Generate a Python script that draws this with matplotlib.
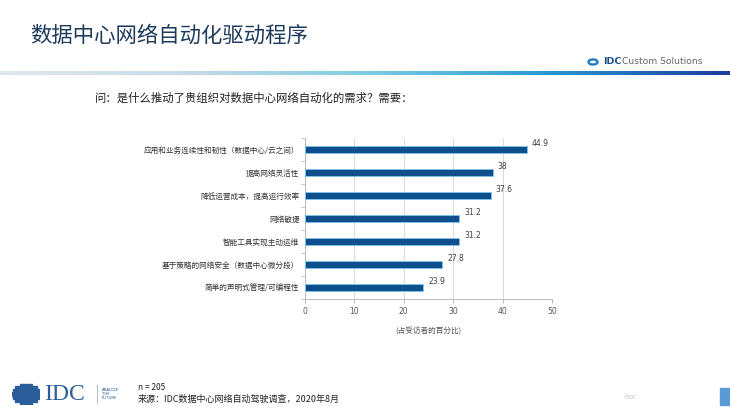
import numpy as np
import matplotlib
matplotlib.use("Agg")
from matplotlib import pyplot as plt
from matplotlib.patches import Rectangle, Circle

plt.rcParams['font.family'] = ['Noto Sans CJK SC', 'DejaVu Sans']

# chart data
drivers = ['应用和业务连续性和韧性（数据中心/云之间）', '提高网络灵活性', '降低运营成本，提高运行效率',
           '网络敏捷', '智能工具实现主动运维', '基于策略的网络安全（数据中心微分段）', '简单的声明式管理/可编程性']
shares = [44.9, 38, 37.6, 31.2, 31.2, 27.8, 23.9]
share_labels = ['44.9', '38', '37.6', '31.2', '31.2', '27.8', '23.9']
x_ticks = [0, 10, 20, 30, 40, 50]

fig = plt.figure(figsize=(7.3, 4.11), dpi=100)

# header
fig.text(30 / 730, 1 - 36 / 411, '数据中心网络自动化驱动程序', fontsize=15.4, color='#1e3b5c',
         va='center', ha='left')
bar_ax = fig.add_axes([0, 1 - 75 / 411, 1, 3.5 / 411])
grad = np.linspace(0, 1, 256).reshape(1, -1)
bar_ax.imshow(grad, aspect='auto', cmap=matplotlib.colors.LinearSegmentedColormap.from_list(
    'hdr', ['#dfe8ee', '#c9dbe6', '#7fcde4', '#2a98d4', '#1a3c9c']))
bar_ax.axis('off')
fig.text(603 / 730, 1 - 62 / 411, 'IDC', fontsize=6.8, fontweight='bold', color='#1b4f8a',
         va='center', ha='left', family='DejaVu Sans')
fig.text(622 / 730, 1 - 62 / 411, 'Custom Solutions', fontsize=6.6, color='#666666',
         va='center', ha='left', family='DejaVu Sans')
fig.patches.append(Circle((593 / 730, 1 - 62 / 411), 0.0062, transform=fig.transFigure,
                          facecolor='none', edgecolor='#2c7fc0', linewidth=1.8))

# question
fig.text(95 / 730, 1 - 98 / 411, '问：是什么推动了贵组织对数据中心网络自动化的需求？需要：',
         fontsize=8.2, color='#222222', va='center', ha='left')

# chart
ax = fig.add_axes([305 / 730, 1 - 299 / 411, 247 / 730, 161 / 411])
ypos = np.arange(len(drivers))
ax.barh(ypos, shares, height=0.32, color='#0c4f8c', edgecolor='#7fc4ef', linewidth=0.6, zorder=3)
for y, v, lab in zip(ypos, shares, share_labels):
    ax.text(v + 1.0, y - 0.08, lab, fontsize=5.5, color='#404040', va='bottom', ha='left',
            family='DejaVu Sans')
ax.set_ylim(len(drivers) - 0.5, -0.5)
ax.set_xlim(0, 50)
ax.set_xticks(x_ticks)
ax.set_xticklabels([str(t) for t in x_ticks], fontsize=5.5, color='#555555', family='DejaVu Sans')
ax.set_yticks(ypos)
ax.set_yticklabels(drivers, fontsize=5.5, color='#333333')
ax.set_yticks(np.arange(len(drivers) + 1) - 0.5, minor=True)
ax.tick_params(axis='y', which='major', length=0, pad=4)
ax.tick_params(axis='y', which='minor', length=3, color='#bbbbbb')
ax.tick_params(axis='x', length=3, color='#bbbbbb', pad=3)
ax.grid(axis='x', color='#d9d9d9', linewidth=0.7, zorder=0)
for s in ['top', 'right']:
    ax.spines[s].set_visible(False)
for s in ['left', 'bottom']:
    ax.spines[s].set_color('#bbbbbb')
    ax.spines[s].set_linewidth(0.7)
ax.set_xlabel('(占受访者的百分比)', fontsize=5.5, color='#555555', labelpad=8)

# footer
logo = fig.add_axes([12 / 730, 1 - 405 / 411, 28 / 730, 22 / 411])
for i, w in enumerate([0.45, 0.75, 0.92, 1.0, 1.0, 0.92, 0.75, 0.45]):
    logo.add_patch(Rectangle((0.5 - w / 2, i / 8 + 0.02), w, 0.08, color='#2a5d9a'))
logo.set_xlim(0, 1)
logo.set_ylim(0, 1)
logo.axis('off')
fig.text(44 / 730, 1 - 394 / 411, 'IDC', fontsize=17, color='#2a5d9a', va='center', ha='left',
         family='Liberation Serif')
fig.lines.append(matplotlib.lines.Line2D([97 / 730, 97 / 730], [1 - 385 / 411, 1 - 403 / 411],
                                         transform=fig.transFigure, color='#9ab3cc', linewidth=0.6))
fig.text(102 / 730, 1 - 394 / 411, 'ANALYZE\nTHE\nFUTURE', fontsize=2.8, color='#2a5d9a',
         va='center', ha='left', family='DejaVu Sans', linespacing=1.1)
fig.text(138 / 730, 1 - 387 / 411, 'n = 205', fontsize=6, color='#222222', va='center', ha='left')
fig.text(138 / 730, 1 - 399 / 411, '来源：IDC数据中心网络自动驾驶调查，2020年8月', fontsize=6.5,
         color='#222222', va='center', ha='left')
fig.text(623 / 730, 1 - 397 / 411, '©IDC', fontsize=3.5, color='#bbbbbb', va='center', ha='left',
         family='DejaVu Sans')
fig.patches.append(Rectangle((720 / 730, 1 - 405 / 411), 10 / 730, 17 / 411, transform=fig.transFigure,
                             color='#5b9bd5'))

fig.savefig('out.png', dpi=100)
